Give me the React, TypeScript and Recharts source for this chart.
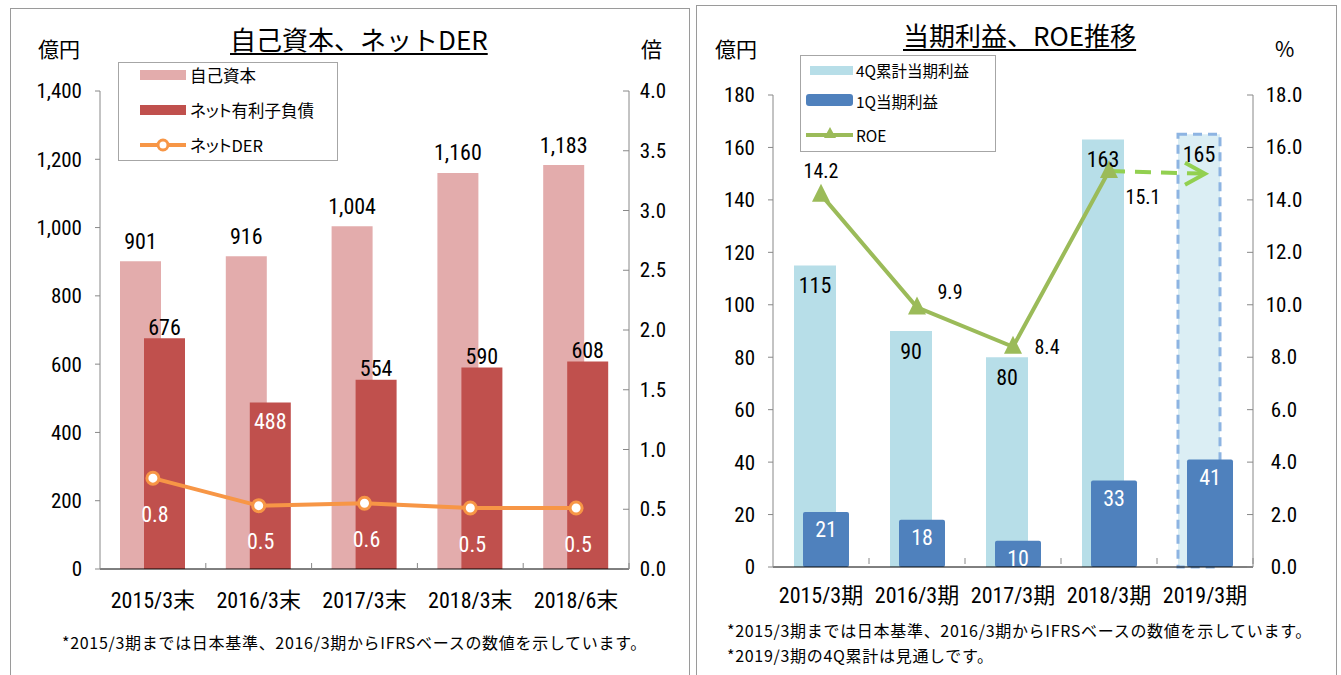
import React from "react";
import { ComposedChart, Bar, Line, XAxis, YAxis, Cell, LabelList } from "recharts";

// left chart data
const leftCategories = ["2015/3末", "2016/3末", "2017/3末", "2018/3末", "2018/6末"];
const equity = [901, 916, 1004, 1160, 1183];
const netDebt = [676, 488, 554, 590, 608];
const netDer = [0.76, 0.53, 0.55, 0.51, 0.51];
const leftTicks = [0, 200, 400, 600, 800, 1000, 1200, 1400];
const derTicks = [0, 0.5, 1, 1.5, 2, 2.5, 3, 3.5, 4];

// right chart data
const rightCategories = ["2015/3期", "2016/3期", "2017/3期", "2018/3期", "2019/3期"];
const profit4Q = [115, 90, 80, 163, 165];
const profit1Q = [21, 18, 10, 33, 41];
const roe = [14.2, 9.9, 8.4, 15.1, null];
const roeForecast = [null, null, null, 15.1, 15.0];
const profitTicks = [0, 20, 40, 60, 80, 100, 120, 140, 160, 180];
const roeTicks = [0, 2, 4, 6, 8, 10, 12, 14, 16, 18];

const leftData = leftCategories.map((name, i) => ({
  name,
  equity: equity[i],
  netDebt: netDebt[i],
  der: netDer[i],
}));

const rightData = rightCategories.map((name, i) => ({
  name,
  p4q: profit4Q[i],
  p1q: profit1Q[i],
  roe: roe[i],
  roeF: roeForecast[i],
}));

const NUM = "'Liberation Sans Narrow', 'Arial Narrow', 'Roboto Condensed', 'Noto Sans CJK JP', sans-serif";
const JP = "'Noto Sans CJK JP', sans-serif";

const PINK = "#E3ACAC";
const RED = "#C0504D";
const ORANGE = "#F79646";
const LBLUE = "#B7DEE8";
const BLUE = "#4F81BD";
const GREEN = "#9BBB59";
const LGREEN = "#92D050";

const XTick = (p: any, band: number) => (
  <g>
    <line x1={p.x + band / 2} x2={p.x + band / 2} y1={p.y} y2={p.y - 6} stroke="#888" />
    <text x={p.x} y={p.y + 31} textAnchor="middle" dominantBaseline="central" fontSize={22} fontFamily={NUM} fill="#000">
      {p.payload.value}
    </text>
  </g>
);

const RightTick = (p: any, margin: number) => (
  <g>
    <line x1={p.x - margin - 6} x2={p.x - margin} y1={p.y} y2={p.y} stroke="#888" />
    <text x={p.x} y={p.y} textAnchor="middle" dominantBaseline="central" fontSize={21} fontFamily={NUM} fill="#000">
      {Number(p.payload.value).toFixed(1)}
    </text>
  </g>
);

const roeLabelOffset = [
  [0, -24],
  [33, -15],
  [34, 0],
  [34, 26],
];

function LeftChart() {
  return (
    <ComposedChart
      width={690}
      height={640}
      data={leftData}
      margin={{ top: 91, right: 11, bottom: 31, left: 40 }}
      barGap={-17}
    >
      <XAxis
        dataKey="name"
        axisLine={{ stroke: "#000" }}
        tickLine={false}
        tickSize={0}
        tickMargin={0}
        height={40}
        tick={(p: any) => XTick(p, 105.8)}
      />
      <YAxis
        yAxisId="l"
        domain={[0, 1400]}
        ticks={leftTicks}
        width={60}
        tickSize={5}
        tickMargin={13}
        axisLine={{ stroke: "#888" }}
        tickLine={{ stroke: "#888" }}
        tickFormatter={(v: number) => v.toLocaleString("en-US")}
        tick={{ fontSize: 21, fill: "#000", fontFamily: NUM }}
      />
      <YAxis
        yAxisId="r"
        orientation="right"
        domain={[0, 4]}
        ticks={derTicks}
        width={50}
        tickSize={0}
        tickMargin={24}
        axisLine={{ stroke: "#888" }}
        tickLine={false}
        tick={(p: any) => RightTick(p, 24)}
      />
      <Bar yAxisId="l" dataKey="equity" fill={PINK} barSize={41} isAnimationActive={false}>
        <LabelList
          dataKey="equity"
          content={(p: any) => (
            <text x={p.x + p.width / 2} y={p.y - 20} textAnchor="middle" dominantBaseline="central" fontSize={22} fontFamily={NUM} fill="#000">
              {Number(p.value).toLocaleString("en-US")}
            </text>
          )}
        />
      </Bar>
      <Bar yAxisId="l" dataKey="netDebt" fill={RED} barSize={41} isAnimationActive={false}>
        <LabelList
          dataKey="netDebt"
          content={(p: any) => {
            const inside = p.index === 1;
            return (
              <text
                x={p.x + p.width / 2}
                y={inside ? p.y + 19 : p.y - 11}
                textAnchor="middle"
                dominantBaseline="central"
                fontSize={22}
                fontFamily={NUM}
                fill={inside ? "#fff" : "#000"}
              >
                {p.value}
              </text>
            );
          }}
        />
      </Bar>
      <Line
        yAxisId="r"
        dataKey="der"
        stroke={ORANGE}
        strokeWidth={4}
        dot={{ r: 6, fill: "#fff", stroke: ORANGE, strokeWidth: 3 }}
        isAnimationActive={false}
      >
        <LabelList
          dataKey="der"
          content={(p: any) => (
            <text x={p.x + 2} y={p.y + 36} textAnchor="middle" dominantBaseline="central" fontSize={22} fontFamily={NUM} fill="#fff">
              {Number(p.value).toFixed(1)}
            </text>
          )}
        />
      </Line>
    </ComposedChart>
  );
}

const Triangle = (p: any) => {
  if (p.cx == null || p.cy == null || p.value == null) return <g key={p.index} />;
  return (
    <polygon
      key={p.index}
      points={`${p.cx},${p.cy - 11} ${p.cx - 9},${p.cy + 7} ${p.cx + 9},${p.cy + 7}`}
      fill={GREEN}
    />
  );
};

const Arrow = (p: any) => {
  if (p.index !== 4 || p.cx == null) return <g key={p.index} />;
  return (
    <polyline
      key={p.index}
      points={`${p.cx - 20},${p.cy - 11} ${p.cx},${p.cy} ${p.cx - 20},${p.cy + 11}`}
      fill="none"
      stroke={LGREEN}
      strokeWidth={4}
    />
  );
};

function RightChart() {
  return (
    <ComposedChart
      width={651}
      height={640}
      data={rightData}
      margin={{ top: 95, right: 28, bottom: 33, left: 33 }}
      barGap={-33}
    >
      <XAxis
        dataKey="name"
        axisLine={{ stroke: "#000" }}
        tickLine={false}
        tickSize={0}
        tickMargin={0}
        height={40}
        tick={(p: any) => XTick({ ...p, y: p.y - 3 }, 96)}
      />
      <YAxis
        yAxisId="l"
        domain={[0, 180]}
        ticks={profitTicks}
        width={50}
        tickSize={5}
        tickMargin={13}
        axisLine={{ stroke: "#888" }}
        tickLine={{ stroke: "#888" }}
        tick={{ fontSize: 21, fill: "#000", fontFamily: NUM }}
      />
      <YAxis
        yAxisId="r"
        orientation="right"
        domain={[0, 18]}
        ticks={roeTicks}
        width={60}
        tickSize={0}
        tickMargin={31}
        axisLine={{ stroke: "#888" }}
        tickLine={false}
        tick={(p: any) => RightTick(p, 31)}
      />
      <Bar yAxisId="l" dataKey="p4q" fill={LBLUE} barSize={42} isAnimationActive={false}>
        {rightData.map((d, i) =>
          i === 4 ? (
            <Cell key={i} fill="#DBEEF4" stroke="#8DB4E2" strokeWidth={3} strokeDasharray="9 6" />
          ) : (
            <Cell key={i} fill={LBLUE} />
          )
        )}
        <LabelList
          dataKey="p4q"
          content={(p: any) => (
            <text x={p.x + p.width / 2} y={p.y + 20} textAnchor="middle" dominantBaseline="central" fontSize={22} fontFamily={NUM} fill="#000">
              {p.value}
            </text>
          )}
        />
      </Bar>
      <Bar yAxisId="l" dataKey="p1q" fill={BLUE} barSize={46} radius={2} isAnimationActive={false}>
        <LabelList
          dataKey="p1q"
          content={(p: any) => (
            <text x={p.x + p.width / 2} y={p.y + 18} textAnchor="middle" dominantBaseline="central" fontSize={22} fontFamily={NUM} fill="#fff">
              {p.value}
            </text>
          )}
        />
      </Bar>
      <Line
        yAxisId="r"
        dataKey="roeF"
        stroke={LGREEN}
        strokeWidth={4}
        strokeDasharray="16 10"
        dot={Arrow}
        activeDot={false}
        isAnimationActive={false}
      />
      <Line
        yAxisId="r"
        dataKey="roe"
        stroke={GREEN}
        strokeWidth={4}
        dot={Triangle}
        activeDot={false}
        isAnimationActive={false}
      >
        <LabelList
          dataKey="roe"
          content={(p: any) => {
            if (p.value == null || p.index > 3) return null;
            const [dx, dy] = roeLabelOffset[p.index];
            return (
              <text x={p.x + dx} y={p.y + dy} textAnchor="middle" dominantBaseline="central" fontSize={20} fontFamily={NUM} fill="#000">
                {Number(p.value).toFixed(1)}
              </text>
            );
          }}
        />
      </Line>
    </ComposedChart>
  );
}

const abs = (left: number, top: number, extra: React.CSSProperties = {}): React.CSSProperties => ({
  position: "absolute",
  left,
  top,
  whiteSpace: "nowrap",
  ...extra,
});

export default function App() {
  const legendText: React.CSSProperties = { fontSize: 16.5, fontFamily: JP, color: "#000", fontFeatureSettings: '"palt"' };
  const note: React.CSSProperties = { fontSize: 16, lineHeight: "24px", letterSpacing: 0.7 };
  const title: React.CSSProperties = { fontSize: 26, textDecoration: "underline", textUnderlineOffset: 3, lineHeight: "34px" };
  return (
    <div style={{ position: "absolute", left: 0, top: 0, width: 1341, height: 675, background: "#fff", overflow: "hidden", fontFamily: JP }}>
      {/* panel frames */}
      <div style={abs(10, 8, { width: 678, height: 700, border: "1px solid #9a9a9a" })} />
      <div style={abs(696, 5, { width: 639, height: 700, border: "1px solid #9a9a9a" })} />

      <div style={abs(0, 0)}>
        <LeftChart />
      </div>
      <div style={abs(690, 0)}>
        <RightChart />
      </div>

      {/* left titles */}
      <div style={abs(230, 22, title)}>自己資本、ネットDER</div>
      <div style={abs(38, 35, { fontSize: 21, lineHeight: "26px" })}>億円</div>
      <div style={abs(641, 35, { fontSize: 21, lineHeight: "26px" })}>倍</div>

      {/* left legend */}
      <div style={abs(118, 62, { width: 218, height: 97, border: "1px solid #a6a6a6", background: "#fff" })} />
      <svg style={abs(118, 62)} width={70} height={98}>
        <rect x={22} y={8} width={46} height={10} fill={PINK} />
        <rect x={22} y={43} width={46} height={10} fill={RED} />
        <line x1={22} x2={68} y1={83} y2={83} stroke={ORANGE} strokeWidth={4} />
        <circle cx={45} cy={83} r={5} fill="#fff" stroke={ORANGE} strokeWidth={3} />
      </svg>
      <div style={abs(190, 63, { ...legendText, lineHeight: "24px" })}>自己資本</div>
      <div style={abs(190, 98, { ...legendText, lineHeight: "24px" })}>ネット有利子負債</div>
      <div style={abs(190, 133, { ...legendText, lineHeight: "24px" })}>ネットDER</div>

      {/* left footnote */}
      <div style={abs(62, 630, note)}>
        *2015/3期までは日本基準、2016/3期からIFRSベースの数値を示しています。
      </div>

      {/* right titles */}
      <div style={abs(903, 18, title)}>当期利益、ROE推移</div>
      <div style={abs(715, 35, { fontSize: 21, lineHeight: "26px" })}>億円</div>
      <div style={abs(1275, 35, { fontSize: 21, lineHeight: "26px" })}>%</div>

      {/* right legend */}
      <div style={abs(800, 55, { width: 194, height: 95, border: "1px solid #a6a6a6", background: "#fff" })} />
      <svg style={abs(800, 55)} width={60} height={96}>
        <rect x={10} y={11} width={43} height={9} fill={LBLUE} />
        <rect x={6} y={39} width={47} height={12} rx={3} fill={BLUE} />
        <line x1={6} x2={53} y1={80} y2={80} stroke={GREEN} strokeWidth={4} />
        <polygon points="30,72 24,83 36,83" fill={GREEN} />
      </svg>
      <div style={abs(856, 58, { ...legendText, fontSize: 15.5, lineHeight: "24px" })}>4Q累計当期利益</div>
      <div style={abs(856, 89, { ...legendText, fontSize: 15.5, lineHeight: "24px" })}>1Q当期利益</div>
      <div style={abs(856, 123, { ...legendText, fontSize: 15.5, lineHeight: "24px" })}>ROE</div>

      {/* right footnotes */}
      <div style={abs(727, 618, note)}>
        *2015/3期までは日本基準、2016/3期からIFRSベースの数値を示しています。
      </div>
      <div style={abs(727, 643, note)}>*2019/3期の4Q累計は見通しです。</div>
    </div>
  );
}
